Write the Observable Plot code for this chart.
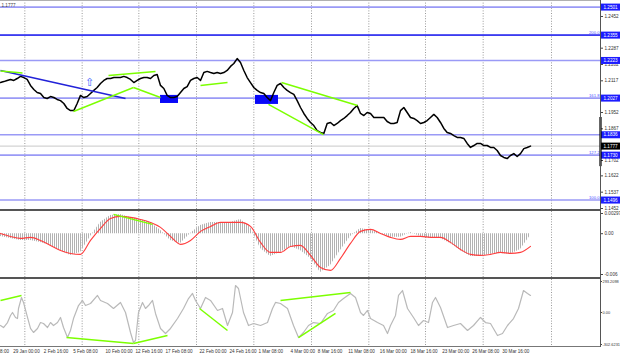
<!DOCTYPE html>
<html><head><meta charset="utf-8">
<script src="https://cdn.jsdelivr.net/npm/d3@7"></script>
<script src="https://cdn.jsdelivr.net/npm/@observablehq/plot@0.6"></script>
<style>
body{margin:0;background:#fff;}
#wrap{position:relative;width:620px;height:357px;overflow:hidden;background:#fff;}
#wrap svg{position:absolute;left:0;overflow:visible;}
.ln{position:absolute;}
</style></head><body><div id="wrap"></div>
<script>
// ---------- data ----------
// H4 closes, one per bar index (0 .. 159)
const closes = [
1.2108,1.2113,1.2119,1.2124,1.2119,1.2129,1.2140,1.2134,1.2124,1.2093,
1.2072,1.2056,1.2051,1.2030,1.2025,1.2035,1.2030,1.2020,1.2014,1.1999,
1.1973,1.1962,1.1962,1.1999,1.2041,1.2030,1.2035,1.2051,1.2067,1.2082,
1.2103,1.2119,1.2129,1.2129,1.2134,1.2134,1.2134,1.2140,1.2134,1.2124,
1.2108,1.2119,1.2129,1.2134,1.2134,1.2129,1.2145,1.2150,1.2093,1.2077,
1.2041,1.2030,1.2030,1.2035,1.2056,1.2077,1.2087,1.2119,1.2129,1.2134,
1.2119,1.2160,1.2166,1.2160,1.2155,1.2160,1.2155,1.2160,1.2171,1.2192,
1.2207,1.2233,1.2212,1.2171,1.2134,1.2108,1.2082,1.2067,1.2056,1.2051,
1.2030,1.2014,1.2056,1.2093,1.2103,1.2082,1.2067,1.2056,1.2046,1.2014,
1.1978,1.1947,1.1921,1.1900,1.1884,1.1858,1.1848,1.1843,1.1895,1.1900,
1.1884,1.1895,1.1910,1.1921,1.1936,1.1952,1.1973,1.1988,1.1947,1.1936,
1.1952,1.1947,1.1926,1.1926,1.1926,1.1926,1.1905,1.1895,1.1895,1.1900,
1.1962,1.1978,1.1952,1.1926,1.1921,1.1910,1.1895,1.1900,1.1910,1.1926,
1.1942,1.1926,1.1900,1.1869,1.1848,1.1843,1.1832,1.1822,1.1822,1.1817,
1.1791,1.1770,1.1780,1.1791,1.1791,1.1780,1.1780,1.1770,1.1770,1.1754,
1.1728,1.1718,1.1712,1.1728,1.1738,1.1723,1.1738,1.1764,1.1770,1.1777];
const current = 1.1777;

const levels = [1.2501,1.2355,1.2223,1.2027,1.1836,1.1730,1.1496];
const fibValues = [1.2355,1.2027,1.1730,1.1496];
const fibNames = ["200.0","161.8","127.2","100.0"];
const priceTicks = [1.2452,1.2287,1.2202,1.2117,1.1952,1.1867,1.1702,1.1622,1.1537,1.1452];
const axisRange = [1.1926,1.1670];

const boxes = [{k1:48,k2:53.4,p1:1.2041,p2:1.1999},{k1:76.5,k2:83.4,p1:1.2041,p2:1.1994}];
const trendLine = [{k1:0,p1:1.2171,k2:37.5,p2:1.2025}];
const greenMain = [
 {k1:0,p1:1.2168,k2:6.6,p2:1.2158},
 {k1:21.9,p1:1.1957,k2:39.9,p2:1.2082},
 {k1:39.9,p1:1.2082,k2:48,p2:1.2030},
 {k1:32.4,p1:1.2145,k2:46.5,p2:1.2166},
 {k1:60,p1:1.2093,k2:68.1,p2:1.2108},
 {k1:84.3,p1:1.2108,k2:107.1,p2:1.1988},
 {k1:80.4,p1:1.1994,k2:96.9,p2:1.1837}];
const arrowMark = [{k:26.7,p:1.2111}];

// MACD (every 3rd bar)
const macdK = [0,3,6,9,12,15,18,21,24,27,30,33,36,39,42,45,48,51,54,57,60,63,66,69,72,75,78,81,84,87,90,93,96,99,102,105,108,111,114,117,120,123,126,129,132,135,138,141,144,147,150,153,156,159];
const macdHist = [-0.00040,-0.00069,-0.00099,-0.00099,-0.00128,-0.00172,-0.00246,-0.00319,-0.00275,-0.00040,
 0.00166,0.00269,0.00284,0.00240,0.00210,0.00166,0.00049,-0.00099,-0.00143,0.00004,
 0.00122,0.00166,0.00166,0.00166,0.00210,0.00093,-0.00216,-0.00334,-0.00275,-0.00187,
 -0.00246,-0.00363,-0.00569,-0.00466,-0.00246,-0.00040,0.00078,0.00049,0.00004,-0.00054,
 -0.00054,0.00019,-0.00040,-0.00069,-0.00069,-0.00143,-0.00246,-0.00334,-0.00334,-0.00304,
 -0.00290,-0.00304,-0.00231,-0.00025];
const macdSignal = [0.00004,-0.00040,-0.00069,-0.00054,-0.00099,-0.00172,-0.00246,-0.00290,-0.00304,-0.00099,
 0.00078,0.00225,0.00254,0.00240,0.00210,0.00166,0.00093,-0.00040,-0.00157,-0.00099,
 0.00034,0.00107,0.00166,0.00166,0.00166,0.00107,-0.00128,-0.00275,-0.00275,-0.00187,
 -0.00172,-0.00319,-0.00496,-0.00540,-0.00363,-0.00143,0.00034,0.00063,0.00004,-0.00054,
 -0.00084,-0.00040,-0.00040,-0.00054,-0.00054,-0.00128,-0.00231,-0.00304,-0.00319,-0.00304,
 -0.00275,-0.00290,-0.00275,-0.00187];
const macdTicks = [0.00297,0,-0.006];
const macdTickLabels = ["0.00297","0.00","-0.006"];
const greenMacd = [{k1:33.9,v1:0.00284,k2:45.6,v2:0.00137}];

// CCI
const cciK = [0,0.9,2.1,3,3.6,4.5,5.1,5.4,6.3,6.9,8.1,9,9.9,11.1,12,12.9,14.1,15,15.9,17.1,
 18,18.9,20.1,21,21.9,23.4,24.6,25.5,27,29.1,30,32.1,33.9,36,37.5,39,39.9,40.5,41.4,42.6,
 43.5,44.4,45.6,46.5,48,49.5,51,53.1,54.9,56.4,57.6,58.5,60,61.5,63,65.1,66.6,68.1,69.6,70.5,
 71.4,72.9,74.4,75.9,78,80.1,81.6,82.5,84,86.1,87.9,89.4,90.9,92.4,93.9,96,98.1,99.9,101.4,102.9,
 105,106.5,108,108.9,110.1,111,113.1,114.9,116.1,117,118.5,119.4,120.6,122.1,123.9,125.4,126.9,128.4,129.6,130.5,
 132,134.1,135.9,138,140.1,141.9,144,145.5,147,149.1,150.6,152.1,153.9,155.4,156.9,158.1,159];
const cciV = [-123,-142,-95,-28,0,-47,-57,38,142,95,
 -47,-151,-189,-151,-95,-104,-142,-95,-123,-95,
 -47,-142,-237,-170,-57,66,114,66,85,161,
 114,85,38,95,0,-189,-284,-265,0,95,
 38,66,114,-9,-151,-199,-151,-57,38,132,
 180,114,38,142,114,19,38,-123,0,255,
 227,0,-123,-104,-123,-95,38,95,85,38,
 -123,-237,-189,-123,-95,-104,-9,19,95,132,
 180,142,0,-28,19,-57,-95,-123,-199,-123,
 -28,161,208,38,-47,-123,-76,-95,95,142,
 47,-142,-123,-104,-170,-123,-47,-95,-104,-218,
 -199,-123,-57,38,208,180,161];
const cciTicks = [293.2098,0,-302.6231];
const cciTickLabels = ["293.2098","0.00","-302.6231"];
const greenCci = [
 {k1:0,v1:114,k2:6.3,v2:161},
 {k1:19.8,v1:-237,k2:39.9,v2:-293},
 {k1:39.9,v1:-293,k2:50.1,v2:-218},
 {k1:59.7,v1:38,k2:68.1,v2:-170},
 {k1:84,v1:114,k2:105,v2:189},
 {k1:89.4,v1:-237,k2:100.5,v2:-9}];

// time axis
const gridK = [7.3,24.5,41.5,58.8,76,93.3,110.5,127.5,144.8,165.3];
const timeLabels = ["26 Jan 08:00","29 Jan 00:00","2 Feb 16:00","5 Feb 08:00","10 Feb 00:00","12 Feb 16:00","17 Feb 08:00","22 Feb 00:00","24 Feb 16:00","1 Mar 08:00","4 Mar 00:00","8 Mar 16:00","11 Mar 08:00","16 Mar 00:00","18 Mar 16:00","23 Mar 00:00","26 Mar 08:00","30 Mar 16:00"];
const timeK = [-5.4,3.8,13.0,21.8,31.5,40.5,49.5,59.7,68.7,77.4,87.0,95.2,104.3,113.8,123.0,132.5,141.5,150.5];

// ---------- drawing ----------
const FONT = "'Liberation Sans', Arial, sans-serif";
const XMAX = 180, XAX = 186;
const GREEN = "#7cff00", BOXBLUE = "#1c1cff";
const common = {width:620, marginLeft:0, marginRight:20, marginTop:0,
  x:{domain:[0,XMAX], axis:null},
  style:{background:"transparent", fontFamily:FONT, fontSize:"4.6px", overflow:"visible", color:"#333"}};
const grid = () => Plot.ruleX(gridK, {stroke:"#808080", strokeWidth:0.8, strokeDasharray:"1,1.6"});

const p1 = Plot.plot({...common, height:210, marginBottom:0,
  y:{domain:[1.14416,1.25353], axis:null},
  marks:[
    grid(),
    Plot.ruleY(levels, {x1:0, x2:XMAX, stroke:"#9a9af6", strokeWidth:1.6}),
    Plot.ruleY(fibValues.filter((d,i)=>fibNames[i]==="200.0"), {x1:0, x2:XMAX, stroke:"#3c3cf0", strokeWidth:1.8}),
    Plot.ruleY([current], {x1:0, x2:XMAX, stroke:"#c8c8c8", strokeWidth:1}),
    Plot.rect(boxes, {x1:"k1", x2:"k2", y1:"p1", y2:"p2", fill:"#0808f8"}),
    Plot.line(closes, {x:(d,i)=>i, y:d=>d, stroke:"#000", strokeWidth:1.5}),
    Plot.link(trendLine, {x1:"k1", y1:"p1", x2:"k2", y2:"p2", stroke:"#2222d8", strokeWidth:1.5}),
    Plot.link(greenMain, {x1:"k1", y1:"p1", x2:"k2", y2:"p2", stroke:GREEN, strokeWidth:1.5}),
    Plot.text(arrowMark, {x:"k", y:"p", text:()=>"\u21E7", fill:"#3a5cff", fontSize:11, fontFamily:"DejaVu Sans"}),
    Plot.text(fibNames, {x:XMAX, y:(d,i)=>fibValues[i], text:d=>d, dx:-1, dy:-2.5, textAnchor:"end", fill:"#5050ff", fontSize:4.2}),
    Plot.text([current], {frameAnchor:"top-left", text:d=>d.toFixed(4), dx:1, dy:3, textAnchor:"start", fill:"#444", fontSize:4.6}),
    Plot.axisY({anchor:"right", ticks:priceTicks, tickFormat:d=>d.toFixed(4), tickSize:2, tickPadding:2, fontSize:4.6, fill:"#333", stroke:"#444"}),
    Plot.ruleY(levels, {x1:XMAX+0.3, x2:XAX, stroke:BOXBLUE, strokeWidth:7}),
    Plot.text(levels, {x:XMAX, text:d=>d.toFixed(4), y:d=>d, dx:3, textAnchor:"start", fill:"#fff", fontSize:4.6}),
    Plot.ruleY([current], {x1:XMAX+0.3, x2:XAX, stroke:"#000", strokeWidth:7}),
    Plot.text([current], {x:XMAX, y:d=>d, text:d=>d.toFixed(4), dx:3, textAnchor:"start", fill:"#fff", fontSize:4.6}),
    Plot.ruleX([XMAX], {y1:axisRange[0], y2:axisRange[1], stroke:"#000", strokeWidth:2.2})
  ]});

const p2 = Plot.plot({...common, height:66, marginBottom:0,
  y:{domain:[-0.006441,0.003264], axis:null},
  marks:[
    grid(),
    Plot.areaY(macdHist, {x:(d,i)=>macdK[i], y1:0, y2:d=>d, fill:"url(#histStripes)"}),
    Plot.line(macdSignal, {x:(d,i)=>macdK[i], y:d=>d, stroke:"#ff3d3d", strokeWidth:1.1, curve:"monotone-x"}),
    Plot.link(greenMacd, {x1:"k1", y1:"v1", x2:"k2", y2:"v2", stroke:GREEN, strokeWidth:1.5}),
    Plot.axisY({anchor:"right", ticks:macdTicks, tickFormat:(d)=>macdTickLabels[macdTicks.indexOf(d)], tickSize:2, tickPadding:2, fontSize:4.6, fill:"#333", stroke:"#444"})
  ]});

const p3 = Plot.plot({...common, height:78, marginBottom:10,
  y:{domain:[-331,312.1], axis:null},
  marks:[
    grid(),
    Plot.line(cciV, {x:(d,i)=>cciK[i], y:d=>d, stroke:"#b9b9b9", strokeWidth:1.2}),
    Plot.link(greenCci, {x1:"k1", y1:"v1", x2:"k2", y2:"v2", stroke:GREEN, strokeWidth:1.5}),
    Plot.axisY({anchor:"right", ticks:cciTicks, tickFormat:(d)=>cciTickLabels[cciTicks.indexOf(d)], tickSize:1, tickPadding:1, fontSize:3.9, fill:"#333", stroke:"#444"}),
    Plot.text(timeLabels, {x:(d,i)=>timeK[i], text:d=>d, frameAnchor:"bottom", dy:5.5, textAnchor:"start", fill:"#333", fontSize:4.6})
  ]});

// stripe pattern for the MACD histogram
const ns = "http://www.w3.org/2000/svg";
const defs = document.createElementNS(ns, "defs");
defs.innerHTML = '<pattern id="histStripes" width="2" height="4" patternUnits="userSpaceOnUse"><rect x="0" y="0" width="1" height="4" fill="#b2b2b2"/></pattern>';
p2.insertBefore(defs, p2.firstChild);

const wrap = document.getElementById("wrap");
[[p1,0],[p2,211],[p3,279]].forEach(([s,t])=>{ s.style.top = t+"px"; wrap.appendChild(s); });
function line(l,t,w,h,c){const d=document.createElement("div");d.className="ln";Object.assign(d.style,{left:l+"px",top:t+"px",width:w+"px",height:h+"px",background:c});wrap.appendChild(d);}
line(0,0,600,1,"#b0b0b0");
line(0,209,600,2,"#555");
line(0,277,600,2,"#555");
line(0,346,600,1,"#777");
line(600,0,1,347,"#555");
</script></body></html>
